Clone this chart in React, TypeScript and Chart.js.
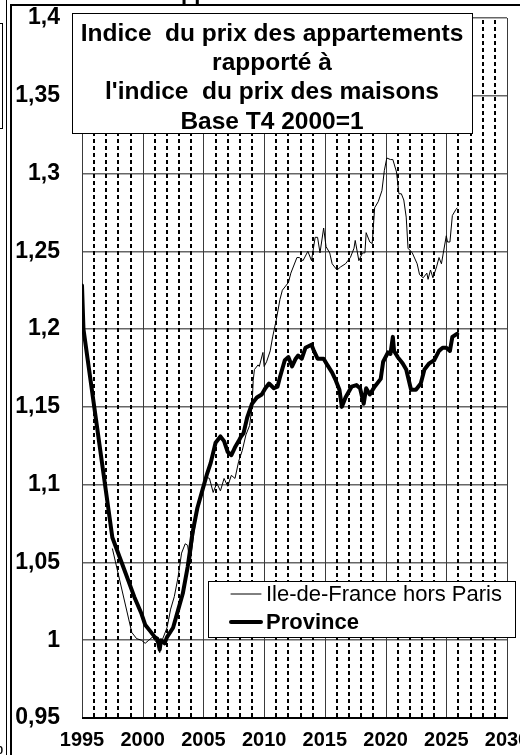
import React, { useEffect, useRef } from 'react';
import { Chart, registerables } from 'chart.js';

Chart.register(...registerables);

// ---- Data ----
const idfYears = [
  1997.5, 1999.1, 1999.5, 1999.9, 2000.2, 2000.5, 2000.8, 2001.2, 2001.4, 2001.6,
  2002.0, 2002.3, 2002.6, 2002.9, 2003.2, 2003.5, 2003.7, 2003.9, 2004.2, 2004.5,
  2004.9, 2005.2, 2005.5, 2005.8, 2006.1, 2006.4, 2006.7, 2007.0, 2007.3, 2007.6,
  2007.9, 2008.2, 2008.5, 2008.8, 2009.0, 2009.1, 2009.2, 2009.5, 2009.6, 2009.9,
  2010.0, 2010.2, 2010.5, 2010.7, 2011.0, 2011.3, 2011.5, 2012.0, 2012.2, 2012.7,
  2012.9, 2013.2, 2013.6, 2013.9, 2014.2, 2014.4, 2014.6, 2014.9, 2015.1, 2015.4,
  2015.6, 2016.0, 2016.3, 2016.7, 2017.1, 2017.4, 2017.5, 2017.8, 2018.1, 2018.3,
  2018.4, 2018.7, 2018.9, 2019.1, 2019.4, 2019.7, 2019.9, 2020.1, 2020.4, 2020.6,
  2020.9, 2021.1, 2021.3, 2021.5, 2021.7, 2021.85, 2022.2, 2022.6, 2022.8, 2023.1,
  2023.4, 2023.5, 2023.7, 2023.9, 2024.2, 2024.4, 2024.6, 2025.0, 2025.1, 2025.3,
  2025.5, 2025.8, 2025.9,
];
const idfValues = [
  1.059, 1.005, 1.001, 1.000, 0.998, 1.000, 1.002, 0.998, 0.992, 1.000,
  1.008, 1.020, 1.028, 1.040, 1.056, 1.062, 1.061, 1.049, 1.068, 1.084,
  1.097, 1.105, 1.104, 1.095, 1.101, 1.096, 1.104, 1.099, 1.106, 1.104,
  1.115, 1.122, 1.132, 1.138, 1.150, 1.167, 1.174, 1.177, 1.176, 1.185,
  1.176, 1.179, 1.186, 1.195, 1.206, 1.219, 1.225, 1.230, 1.236, 1.246,
  1.246, 1.244, 1.250, 1.244, 1.259, 1.259, 1.249, 1.265, 1.253, 1.249,
  1.242, 1.238, 1.240, 1.242, 1.246, 1.252, 1.257, 1.244, 1.249, 1.249,
  1.262, 1.256, 1.255, 1.278, 1.282, 1.289, 1.302, 1.310, 1.309, 1.309,
  1.301, 1.287, 1.287, 1.283, 1.272, 1.252, 1.249, 1.242, 1.235, 1.233,
  1.236, 1.232, 1.238, 1.233, 1.240, 1.246, 1.242, 1.260, 1.256, 1.256,
  1.273, 1.277, 1.278,
];

const provYears = [
  1995.0, 1995.12, 1997.5, 1998.5, 1999.3, 1999.9, 2000.2, 2000.6, 2001.0, 2001.2,
  2001.4, 2001.5, 2001.8, 2002.0, 2002.5, 2002.9, 2003.3, 2003.7, 2004.1, 2004.5,
  2004.9, 2005.3, 2005.6, 2006.0, 2006.4, 2006.7, 2007.0, 2007.3, 2007.6, 2007.9,
  2008.1, 2008.3, 2008.6, 2009.0, 2009.4, 2009.8, 2010.1, 2010.4, 2010.8, 2011.1,
  2011.3, 2011.7, 2012.0, 2012.3, 2012.6, 2012.8, 2013.1, 2013.4, 2013.9, 2014.1,
  2014.4, 2014.9, 2015.2, 2015.6, 2015.9, 2016.2, 2016.4, 2016.7, 2017.2, 2017.6,
  2017.9, 2018.2, 2018.4, 2018.7, 2019.1, 2019.6, 2019.8, 2020.2, 2020.4, 2020.6,
  2020.7, 2021.0, 2021.4, 2021.7, 2022.1, 2022.5, 2022.9, 2023.2, 2023.6, 2024.0,
  2024.4, 2024.7, 2025.0, 2025.3, 2025.5, 2025.9,
];
const provValues = [
  1.228, 1.200, 1.066, 1.045, 1.028, 1.017, 1.010, 1.006, 1.002, 1.001,
  0.994, 1.000, 0.998, 1.002, 1.008, 1.019, 1.030, 1.047, 1.069, 1.085,
  1.096, 1.107, 1.114, 1.127, 1.131, 1.128, 1.121, 1.119, 1.124, 1.128,
  1.131, 1.133, 1.143, 1.152, 1.156, 1.158, 1.162, 1.165, 1.162, 1.163,
  1.169, 1.180, 1.182, 1.176, 1.181, 1.183, 1.181, 1.188, 1.190, 1.186,
  1.181, 1.181, 1.177, 1.172, 1.167, 1.161, 1.150, 1.156, 1.163, 1.164,
  1.162, 1.152, 1.162, 1.158, 1.163, 1.168, 1.179, 1.185, 1.184, 1.195,
  1.186, 1.182, 1.178, 1.174, 1.161, 1.161, 1.165, 1.174, 1.178, 1.180,
  1.186, 1.188, 1.188, 1.186, 1.195, 1.197,
];

const seriesLabels = ['Ile-de-France hors Paris', 'Province'];
const titleLines = [
  'Indice  du prix des appartements',
  'rapporté à',
  "l'indice  du prix des maisons",
  'Base T4 2000=1',
];
const xMin = 1995;
const xMax = 2030;
const yMin = 0.95;
const yMax = 1.4;

const FONT = '"Liberation Sans", Arial, sans-serif';

const toPoints = (xs: number[], ys: number[]) => xs.map((x, i) => ({ x, y: ys[i] }));

const gridPlugin = {
  id: 'yearGrid',
  beforeDatasetsDraw(chart: any) {
    const { ctx, chartArea, scales } = chart;
    const x = scales.x;
    ctx.save();
    for (let yr = xMin; yr <= xMax; yr++) {
      const px = Math.round(x.getPixelForValue(yr));
      ctx.beginPath();
      if (yr % 5 === 0) {
        ctx.setLineDash([]);
        ctx.strokeStyle = '#3a3a3a';
        ctx.lineWidth = 1;
        ctx.moveTo(px + 0.5, chartArea.top);
        ctx.lineTo(px + 0.5, chartArea.bottom);
      } else {
        ctx.setLineDash([4, 3]);
        ctx.strokeStyle = '#000';
        ctx.lineWidth = 2;
        ctx.moveTo(px, chartArea.top + 2);
        ctx.lineTo(px, chartArea.bottom);
      }
      ctx.stroke();
    }
    ctx.restore();
  },
};

const overlayPlugin = {
  id: 'overlay',
  afterDraw(chart: any) {
    const { ctx } = chart;
    ctx.save();
    // bottom axis line
    const ca = chart.chartArea;
    ctx.fillStyle = '#000';
    ctx.fillRect(ca.left, ca.bottom - 1, ca.right - ca.left + 1, 2);

    // Title box
    ctx.fillStyle = '#fff';
    ctx.fillRect(72, 13, 400, 120);
    ctx.strokeStyle = '#000';
    ctx.lineWidth = 1;
    ctx.setLineDash([]);
    ctx.strokeRect(72.5, 13.5, 400, 120);
    ctx.fillStyle = '#000';
    ctx.font = `bold 24.5px ${FONT}`;
    ctx.textAlign = 'center';
    ctx.textBaseline = 'middle';
    titleLines.forEach((t, i) => {
      ctx.fillText(t, 272, 34 + i * 29.3);
    });

    // Legend box
    ctx.fillStyle = '#fff';
    ctx.fillRect(208, 581, 307, 56);
    ctx.strokeRect(208.5, 581.5, 307, 56);
    const rows = [594, 622];
    chart.data.datasets.forEach((ds: any, i: number) => {
      ctx.beginPath();
      ctx.strokeStyle = '#000';
      ctx.lineWidth = ds.borderWidth;
      ctx.lineCap = 'round';
      ctx.moveTo(231, rows[i]);
      ctx.lineTo(261, rows[i]);
      ctx.stroke();
      ctx.fillStyle = '#000';
      ctx.textAlign = 'left';
      ctx.textBaseline = 'middle';
      ctx.font = `${i === 1 ? 'bold ' : ''}22px ${FONT}`;
      ctx.fillText(ds.label, 266, rows[i] + 1);
    });

    // Fragments of surrounding page (cropped frame)
    ctx.fillStyle = '#000';
    ctx.fillRect(10, 4, 510, 2);
    ctx.fillRect(6, 0, 1, 755);
    ctx.fillRect(10, 4, 2, 751);
    ctx.fillRect(2, 23, 1, 106);
    ctx.fillRect(0, 23, 3, 1);
    ctx.fillRect(0, 128, 3, 1);
    ctx.font = `bold 22px ${FONT}`;
    ctx.textAlign = 'left';
    ctx.textBaseline = 'alphabetic';
    ctx.fillText('Appartements', 165, 0);
    ctx.font = `bold 11px ${FONT}`;
    ctx.fillText('0', -3, 754);
    ctx.restore();
  },
};

export default function App() {
  const canvasRef = useRef<HTMLCanvasElement | null>(null);

  useEffect(() => {
    const canvas = canvasRef.current;
    if (!canvas) return;
    const chart = new Chart(canvas, {
      type: 'line',
      data: {
        datasets: [
          {
            label: seriesLabels[0],
            data: toPoints(idfYears, idfValues),
            borderColor: '#000',
            backgroundColor: '#000',
            borderWidth: 1,
            pointRadius: 0,
            tension: 0,
            order: 1,
          },
          {
            label: seriesLabels[1],
            data: toPoints(provYears, provValues),
            borderColor: '#000',
            backgroundColor: '#000',
            borderWidth: 4,
            pointRadius: 0,
            tension: 0,
            borderJoinStyle: 'round',
            borderCapStyle: 'round',
            order: 2,
          },
        ],
      },
      options: {
        animation: false,
        responsive: false,
        events: [],
        layout: { padding: { top: 18, right: 13, left: 0, bottom: 0 } },
        plugins: {
          legend: { display: false },
          tooltip: { enabled: false },
          title: { display: false },
        },
        scales: {
          x: {
            type: 'linear',
            min: xMin,
            max: xMax,
            ticks: {
              stepSize: 5,
              color: '#000',
              font: { family: FONT, size: 20, weight: 'bold' },
              padding: 10,
              maxRotation: 0,
              autoSkip: false,
              callback: (v: any) => String(v),
            },
            grid: { display: false, drawTicks: false },
            border: { display: false },
            afterFit: (s: any) => {
              s.height = 37;
              s.paddingLeft = 0;
              s.paddingRight = 0;
            },
          },
          y: {
            type: 'linear',
            min: yMin,
            max: yMax,
            ticks: {
              stepSize: 0.05,
              color: '#000',
              font: { family: FONT, size: 23, weight: 'bold' },
              padding: 22,
              callback: (v: any) => String(Number(Number(v).toFixed(2))).replace('.', ','),
            },
            grid: { color: '#666', lineWidth: 1.5, drawTicks: false },
            border: { display: false },
            afterFit: (s: any) => {
              s.width = 82;
              s.paddingTop = 0;
              s.paddingBottom = 0;
            },
          },
        },
      },
      plugins: [gridPlugin, overlayPlugin],
    } as any);
    return () => chart.destroy();
  }, []);

  return (
    <div style={{ position: 'fixed', left: 0, top: 0, width: 520, height: 755, background: '#fff' }}>
      <canvas ref={canvasRef} width={520} height={755} style={{ display: 'block' }} />
    </div>
  );
}
